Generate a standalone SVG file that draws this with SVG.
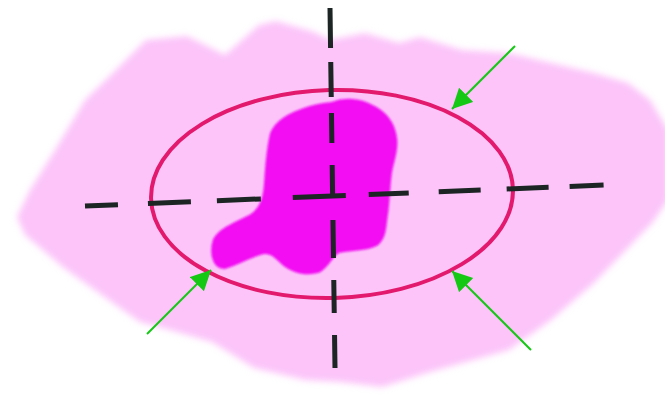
<svg xmlns="http://www.w3.org/2000/svg" width="665" height="395" viewBox="0 0 665 395">
  <style>
    .axis { fill: none; stroke: #1c2424; stroke-width: 5; stroke-linecap: butt; }
    .arrow { fill: none; stroke: #14c814; stroke-width: 2; marker-end: url(#head); }
  </style>
  <defs>
    <filter id="soft" x="-10%" y="-10%" width="120%" height="120%">
      <feGaussianBlur stdDeviation="3"/>
    </filter>
    <filter id="blobsoft" x="-10%" y="-10%" width="120%" height="120%">
      <feGaussianBlur stdDeviation="0.8"/>
    </filter>
    <marker id="head" markerUnits="userSpaceOnUse" markerWidth="22" markerHeight="22" refX="20" refY="10" orient="auto">
      <path d="M0,0 L20,10 L0,20 Z" fill="#14c814"/>
    </marker>
  </defs>
  <rect width="665" height="395" fill="#ffffff"/>
  <g id="background">
    <polygon filter="url(#soft)" fill="#fcc4f9" points="146,40 187,36 225,55 259,25 276,21 314,32 330,40 365,33 399,43 420,37 462,50 509,53 551,63 594,73 628,83 650,100 668,130 668,200 653,222 594,283 551,320 509,350 466,362 430,372 382,387 340,382 305,380 254,368 212,342 170,330 140,322 127,313 64,268 25,235 17,217 30,190 55,150 85,100 119,67"/>
  </g>
  <g id="lesion">
    <path filter="url(#blobsoft)" fill="#f20cf2" stroke="#f20cf2" stroke-width="6" stroke-linejoin="round" d="M332,105 C345,100 360,101 372,108 C384,114 392,124 394,138 C396,150 391,160 389,172 C387,186 387,200 385,214 C383,226 384,236 376,243 C366,249 350,247 338,250 C330,254 328,264 318,270 C308,273 296,271 286,264 C278,258 274,250 264,251 C252,253 238,262 224,266 C215,266 212,252 216,240 C222,230 238,224 250,218 C262,211 266,200 267,184 C268,168 269,150 273,134 C278,122 290,116 304,111 C314,107 322,106 332,105 Z"/>
  </g>
  <g id="margin">
    <ellipse cx="332" cy="194" rx="181" ry="104" transform="rotate(-1.5 332 194)" fill="none" stroke="#e2196c" stroke-width="4"/>
  </g>
  <g id="axes">
    <line class="axis" x1="85" y1="206" x2="604" y2="185" stroke-dasharray="33 30 43 26 44 32 53 23 40 30 42 26 42 21 34"/>
    <line class="axis" x1="330" y1="8" x2="335" y2="368" stroke-dasharray="40 14 35 16 30 22 33 22 38 22 33 22 33"/>
  </g>
  <g id="connectors">
    <line class="arrow" x1="515" y1="46" x2="452" y2="109"/>
    <line class="arrow" x1="147" y1="334" x2="211" y2="270"/>
    <line class="arrow" x1="531" y1="350" x2="452" y2="271"/>
  </g>
</svg>
